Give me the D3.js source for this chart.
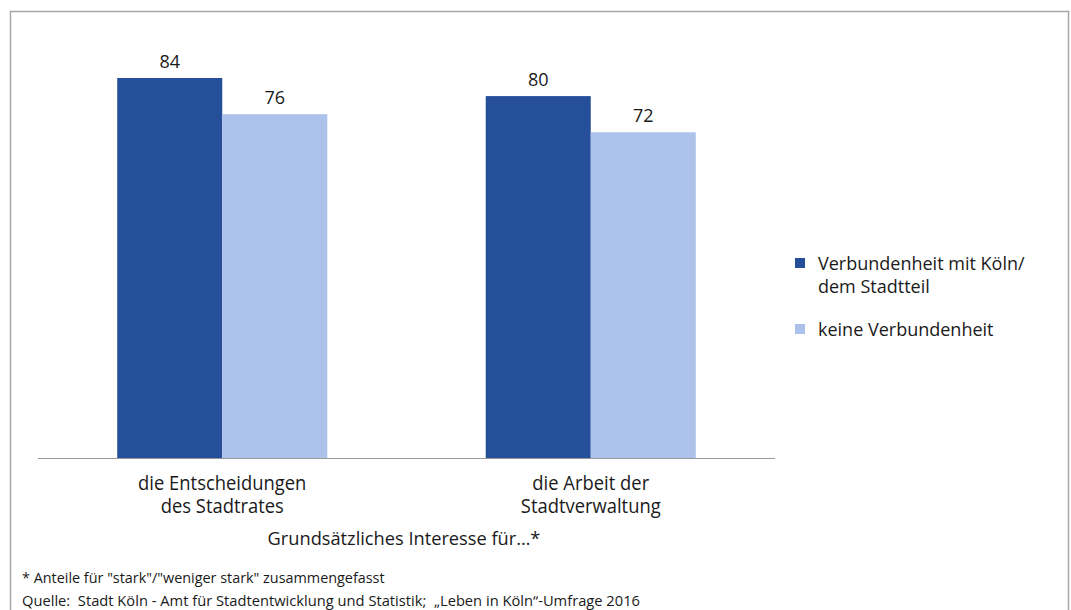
<!DOCTYPE html>
<html>
<head>
<meta charset="utf-8">
<script src="https://cdn.jsdelivr.net/npm/d3@7"></script>
<style>
  body { margin: 0; background: #fff; }
  svg text { font-family: "Open Sans", "Noto Sans", sans-serif; fill: #1a1a1a; white-space: pre; }
</style>
</head>
<body>
<div id="chart-area"></div>
<script>
const categories = ['die Entscheidungen\ndes Stadtrates', 'die Arbeit der\nStadtverwaltung'];
const seriesNames = ['Verbundenheit mit Köln/\ndem Stadtteil', 'keine Verbundenheit'];
const verbunden = [84, 80];
const keine = [76, 72];
const colors = ['#264f9a', '#adc2ea'];

// slightly squeezed text (Open Sans is wider than the original font)
const narrowText = (svg, x, y, size, sx, anchor, lines, lh) => {
  const g = svg.append('g').attr('transform', `translate(${x},${y}) scale(${sx},1)`);
  const t = g.append('text')
    .attr('text-anchor', anchor)
    .attr('font-size', size);
  lines.forEach((line, k) => {
    t.append('tspan').attr('x', 0).attr('y', k * lh).text(line);
  });
  return t;
};

const drawChart = () => {
  const chartSize = { width: 1071, height: 610 };
  const svg = d3.select('#chart-area')
    .append('svg')
    .attr('width', chartSize.width)
    .attr('height', chartSize.height);

  // outer frame
  svg.append('path')
    .attr('d', 'M10.5,620 V11.5 H1068.5 V620')
    .attr('fill', 'none')
    .attr('stroke', '#a6a6a6')
    .attr('stroke-width', 1.5);

  const x = d3.scaleBand()
    .domain(categories)
    .range([38, 775])
    .paddingInner(0.43)
    .paddingOuter(0.215);

  const sub = d3.scaleBand()
    .domain([0, 1])
    .range([0, x.bandwidth()]);

  const y = d3.scaleLinear()
    .domain([0, 84])
    .range([458, 78]);

  const rows = categories.map((c, i) => ({ cat: c, vals: [verbunden[i], keine[i]] }));

  const groups = svg.selectAll('.grp').data(rows).enter()
    .append('g')
    .attr('class', 'grp')
    .attr('transform', d => `translate(${x(d.cat)},0)`);

  groups.selectAll('rect').data(d => d.vals).enter()
    .append('rect')
    .attr('x', (v, j) => sub(j))
    .attr('y', v => y(v))
    .attr('width', sub.bandwidth())
    .attr('height', v => y(0) - y(v))
    .attr('fill', (v, j) => colors[j]);

  groups.selectAll('.val').data(d => d.vals).enter()
    .append('text')
    .attr('class', 'val')
    .attr('x', (v, j) => sub(j) + sub.bandwidth() / 2)
    .attr('y', v => y(v) - 10)
    .attr('text-anchor', 'middle')
    .attr('font-size', 18)
    .text(v => v);

  // x axis line
  svg.append('line')
    .attr('x1', 38).attr('x2', 775)
    .attr('y1', 458.5).attr('y2', 458.5)
    .attr('stroke', '#9a9a9a')
    .attr('stroke-width', 1);

  // category labels
  categories.forEach(c => {
    narrowText(svg, x(c) + x.bandwidth() / 2, 490, 20, 0.92, 'middle', c.split('\n'), 23);
  });

  narrowText(svg, 404, 545, 19, 0.96, 'middle', ['Grundsätzliches Interesse für…*'], 0);

  // legend
  const legY = [258, 324];
  seriesNames.forEach((name, i) => {
    svg.append('rect')
      .attr('x', 795).attr('y', legY[i])
      .attr('width', 10).attr('height', 10)
      .attr('fill', colors[i]);
    const t = svg.append('text').attr('font-size', 18);
    name.split('\n').forEach((line, k) => {
      t.append('tspan')
        .attr('x', 818)
        .attr('y', legY[i] + 12 + k * 23)
        .text(line);
    });
  });

  // footnotes
  narrowText(svg, 22, 583, 15, 0.96, 'start', ['* Anteile für "stark"/"weniger stark" zusammengefasst'], 0);
  narrowText(svg, 22, 606, 15, 0.98, 'start', ['Quelle:  Stadt Köln - Amt für Stadtentwicklung und Statistik;  „Leben in Köln“-Umfrage 2016'], 0);
};

window.onload = drawChart;
</script>
</body>
</html>
